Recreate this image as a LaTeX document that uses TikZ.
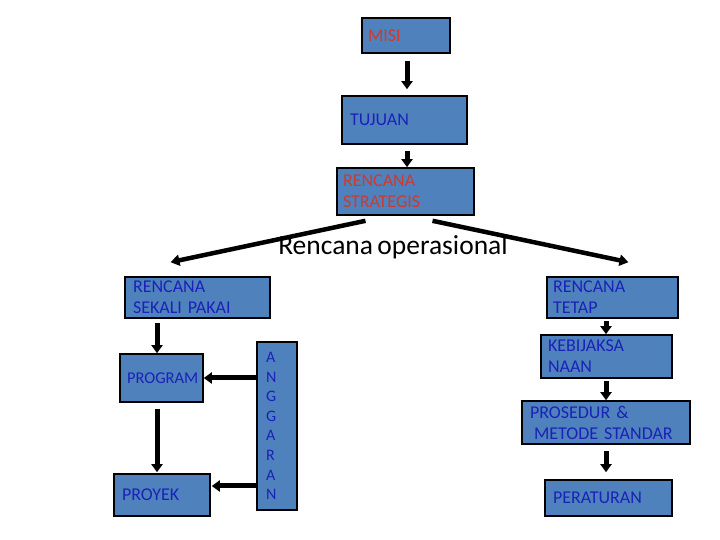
\documentclass[tikz,border=0pt]{standalone}
\usepackage{fontspec}
\setmainfont{Carlito}[WordSpace=0.7]
\usetikzlibrary{arrows.meta}
\definecolor{boxfill}{HTML}{4F81BD}
\definecolor{txtblue}{HTML}{1A22B8}
\definecolor{txtred}{HTML}{CC3B2E}
\tikzset{
  box/.style={draw=black, line width=1.6pt, fill=boxfill, rectangle, align=left,
    font=\fontsize{18}{21}\selectfont, text=txtblue, inner ysep=0pt},
  redtxt/.style={text=txtred},
  arr/.style={line width=5pt, -{Triangle[width=11pt,length=8pt]}},
  diag/.style={line width=4.5pt, -{Triangle[width=11pt,length=9pt]}}
}
\begin{document}
\begin{tikzpicture}[x=1pt,y=1pt]
\useasboundingbox[fill=white] (0,0) rectangle (720,540);
% boxes
\node[box, redtxt, text width=76, inner xsep=6, minimum height=35] (misi) at (406,504.5) {MISI};
\node[box, text width=109, inner xsep=8, minimum height=48] (tujuan) at (404.5,420) {TUJUAN};
\node[box, redtxt, text width=125, inner xsep=6, minimum height=47] (rs) at (405.5,348.5) {RENCANA\\STRATEGIS};
\node[box, text width=129, inner xsep=8, minimum height=41] (rsp) at (197.5,242.5) {RENCANA\\SEKALI PAKAI};
\node[box, text width=119, inner xsep=6, minimum height=41] (rt) at (612.5,242.5) {RENCANA\\TETAP};
\node[box, text width=69, inner xsep=7, minimum height=48, font=\fontsize{16.5}{21}\selectfont] (program) at (161.5,162) {PROGRAM};
\node[box, text width=80, inner xsep=8, minimum height=42] (proyek) at (162,45) {PROYEK};
\node[box, text width=22, inner xsep=9, minimum height=168, font=\fontsize{16}{19.6}\selectfont] (anggaran) at (277,114) {A\\N\\G\\G\\A\\R\\A\\N};
\node[box, text width=117, inner xsep=7, minimum height=43] (keb) at (606.5,183.5) {KEBIJAKSA\\NAAN};
\node[box, text width=152, inner xsep=8, minimum height=43] (pros) at (606,117.5) {PROSEDUR \&\\\hspace*{4pt}METODE STANDAR};
\node[box, text width=111, inner xsep=8, minimum height=36] (per) at (608.5,42) {PERATURAN};
\coordinate (proyekin) at ([xshift=1,yshift=9]proyek.east);
% arrows
\draw[arr] ([xshift=1,yshift=-7]misi.south) -- ([xshift=2.5,yshift=6]tujuan.north);
\draw[arr] ([xshift=2.5,yshift=-6]tujuan.south) -- ([xshift=1.5]rs.north);
\draw[diag] ([xshift=-40,yshift=-5]rs.south) -- ([xshift=-27,yshift=14]rsp.north);
\draw[diag] ([xshift=27,yshift=-5]rs.south) -- ([xshift=16,yshift=14]rt.north);
\node[font=\fontsize{27.5}{30}\selectfont, text=black, inner sep=0pt] (op) at (393,293) {Rencana operasional};
\draw[arr] ([xshift=-40.5,yshift=-4]rsp.south) -- ([xshift=-4.5]program.north);
\draw[arr] ([xshift=-4.5,yshift=-6]program.south) -- ([xshift=-5,yshift=1]proyek.north);
\draw[arr] (anggaran.west |- program.east) -- (program.east);
\draw[arr] (anggaran.west |- proyekin) -- (proyekin);
\draw[arr] ([xshift=-6.5,yshift=-2]rt.south) -- ([xshift=-0.5]keb.north);
\draw[arr] ([xshift=-0.5,yshift=-2]keb.south) -- (pros.north);
\draw[arr] ([yshift=-6]pros.south) -- ([xshift=-2.5,yshift=7]per.north);
\end{tikzpicture}
\end{document}
